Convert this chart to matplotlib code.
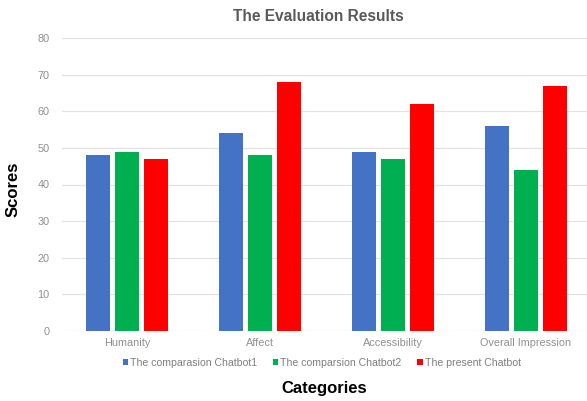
import numpy as np
import matplotlib
matplotlib.use("Agg")
import matplotlib.pyplot as plt

categories = ["Humanity", "Affect", "Accessibility", "Overall Impression"]
series_names = ["The comparasion Chatbot1", "The comparsion Chatbot2", "The present Chatbot"]
chatbot1 = [48, 54, 49, 56]
chatbot2 = [49, 48, 47, 44]
present = [47, 68, 62, 67]
colors = ["#4472C4", "#00B050", "#FF0000"]

plt.rcParams["font.family"] = ["Liberation Sans", "DejaVu Sans"]

fig = plt.figure(figsize=(5.87, 4.01), dpi=100)
ax = fig.add_axes([62 / 587, 70 / 401, 525 / 587, 293 / 401])

x = np.arange(len(categories))
width = 0.18
step = 0.218
for i, (vals, name, col) in enumerate(zip([chatbot1, chatbot2, present], series_names, colors)):
    ax.bar(x + (i - 1) * step, vals, width, color=col, label=name, zorder=3)

ax.set_xlim(-0.489, 3.459)
ax.set_ylim(0, 80)
ax.set_yticks(range(0, 81, 10))
ax.set_xticks(x)
ax.set_xticklabels(categories)
ax.grid(axis="y", color="#e3e3e3", linewidth=0.9, zorder=0)
for s in ax.spines.values():
    s.set_visible(False)
ax.tick_params(length=0, colors="#909090", labelsize=7.8)
ax.tick_params(axis="y", pad=9)
ax.tick_params(axis="x", pad=5)

fig.text(0.543, 0.96, "The Evaluation Results", ha="center", va="center",
         fontsize=11.2, fontweight="bold", color="#595959")
fig.text(0.553, 0.032, "Categories", ha="center", va="center",
         fontsize=12, fontweight="bold", color="black")
fig.text(0.022, 0.527, "Scores", ha="center", va="center", rotation=90,
         fontsize=12, fontweight="bold", color="black")

leg = fig.legend(loc="center", bbox_to_anchor=(0.548, 0.095), ncol=3, frameon=False,
                 fontsize=7.6, handlelength=0.5, handleheight=0.5, handletextpad=0.2,
                 columnspacing=1.5, labelcolor="#7f7f7f")

fig.savefig("out.png", dpi=100)
